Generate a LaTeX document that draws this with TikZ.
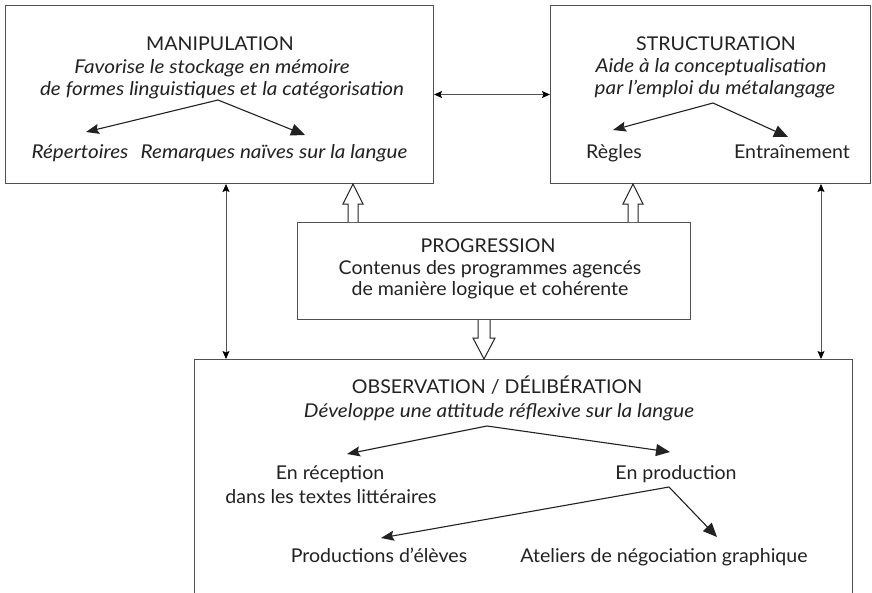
\documentclass[tikz,border=0pt]{standalone}
\usepackage{fontspec}
\setmainfont{Lato}[UprightFeatures={FakeStretch=1.03},ItalicFeatures={FakeStretch=1.09}]
\usetikzlibrary{arrows.meta,calc}
\definecolor{boxgray}{HTML}{505050}
\definecolor{ink}{HTML}{222222}
\newcommand\dfont{\fontsize{19pt}{23pt}\selectfont}
\begin{document}
\begin{tikzpicture}[x=1pt,y=-1pt,
  box/.style={draw=boxgray, line width=1pt, inner sep=0pt, rectangle},
  txt/.style={inner sep=0pt, anchor=base, text=ink, font=\dfont},
  itx/.style={txt, font=\dfont\itshape},
  dbl/.style={draw=boxgray, line width=0.9pt, {Stealth[length=8pt,width=7pt,inset=1.5pt,color=black]}-{Stealth[length=8pt,width=7pt,inset=1.5pt,color=black]}},
  brs/.style={draw=ink, line width=1.1pt, -{Stealth[length=13pt,width=10pt,inset=2pt]}},
  brb/.style={draw=ink, line width=1.1pt, -{Triangle[length=14pt,width=12pt]}},
  hollow/.style={draw=ink, line width=1pt, fill=white, line join=miter}
]
\fill[white] (0,0) rectangle (872,592);
\clip (0,0) rectangle (872,592);

% boxes
\node[box, anchor=north west, minimum width=428pt, minimum height=178pt] (man) at (5,5) {};
\node[box, anchor=north west, minimum width=320pt, minimum height=178pt] (str) at (550,5) {};
\node[box, anchor=north west, minimum width=393pt, minimum height=97pt] (prog) at (297,222) {};
\node[box, anchor=north west, minimum width=658pt, minimum height=260pt] (obs) at (194,359) {};

% MANIPULATION
\node[txt] (manT) at (220,50) {MANIPULATION};
\node[itx] (manS1) at (212,73) {Favorise le stockage en mémoire};
\node[itx] (manS2) at (222,95) {de formes linguistiques et la catégorisation};
\node[itx] (rep) at (80,158) {Répertoires};
\node[itx] (rem) at (274,158) {Remarques naïves sur la langue};
\coordinate (manF) at (218,100);
\coordinate (manL) at (86,132);
\coordinate (manR) at (305,135);
\draw[brs] (manF) -- (manL);
\draw[brb] (manF) -- (manR);

% STRUCTURATION
\node[txt] (strT) at (716,50) {STRUCTURATION};
\node[itx] (strS1) at (711,72) {Aide à la conceptualisation};
\node[itx] (strS2) at (715,94) {par l’emploi du métalangage};
\node[txt] (reg) at (614,158) {Règles};
\node[txt] (ent) at (792,158) {Entraînement};
\coordinate (strF) at (713,103);
\coordinate (strL) at (613,130);
\coordinate (strR) at (788,137);
\draw[brs] (strF) -- (strL);
\draw[brb] (strF) -- (strR);

% PROGRESSION
\node[txt] (progT) at (488,252) {PROGRESSION};
\node[txt] (progS1) at (490,274) {Contenus des programmes agencés};
\node[txt] (progS2) at (490,295) {de manière logique et cohérente};

% OBSERVATION
\node[txt] (obsT) at (497,393) {OBSERVATION / DÉLIBÉRATION};
\node[itx] (obsS) at (499,417) {Développe une attitude réflexive sur la langue};
\node[txt] (rec1) at (330,479) {En réception};
\node[txt] (rec2) at (331,503) {dans les textes littéraires};
\node[txt] (prod) at (676,479) {En production};
\node[txt] (elev) at (379,562) {Productions d’élèves};
\node[txt] (atel) at (664,562) {Ateliers de négociation graphique};
\coordinate (obsF1) at (487,426);
\coordinate (obsL1) at (347,454);
\coordinate (obsR1) at (670,452);
\coordinate (obsF2) at (669,487);
\coordinate (obsL2) at (381,538);
\coordinate (obsR2) at (717,537);
\draw[brs] (obsF1) -- (obsL1);
\draw[brb] (obsF1) -- (obsR1);
\draw[brs] (obsF2) -- (obsL2);
\draw[brb] (obsF2) -- (obsR2);

% thin double arrows
\coordinate (lx) at (226,0);
\coordinate (rx) at (821,0);
\draw[dbl] (man.east) -- (str.west);
\draw[dbl] (man.south -| lx) -- (obs.north -| lx);
\draw[dbl] (str.south -| rx) -- (obs.north -| rx);

% hollow arrows
\coordinate (h1) at (353,0);
\coordinate (h2) at (633,0);
\coordinate (h3) at (484,0);
\path (prog.north -| h1) coordinate (h1b) (man.south -| h1) coordinate (h1t);
\path (prog.north -| h2) coordinate (h2b) (str.south -| h2) coordinate (h2t);
\path (prog.south -| h3) coordinate (h3b) (obs.north -| h3) coordinate (h3t);
\draw[hollow] ($(h1b)+(-5,0)$) -- ($(h1t)+(-5,20)$) -- ($(h1t)+(-10,20)$) -- (h1t)
  -- ($(h1t)+(10,20)$) -- ($(h1t)+(5,20)$) -- ($(h1b)+(5,0)$);
\draw[hollow] ($(h2b)+(-5,0)$) -- ($(h2t)+(-5,20)$) -- ($(h2t)+(-10,20)$) -- (h2t)
  -- ($(h2t)+(10,20)$) -- ($(h2t)+(5,20)$) -- ($(h2b)+(5,0)$);
\draw[hollow] ($(h3b)+(-6,0)$) -- ($(h3t)+(-6,-21)$) -- ($(h3t)+(-11,-21)$) -- (h3t)
  -- ($(h3t)+(11,-21)$) -- ($(h3t)+(6,-21)$) -- ($(h3b)+(6,0)$);
\end{tikzpicture}
\end{document}
